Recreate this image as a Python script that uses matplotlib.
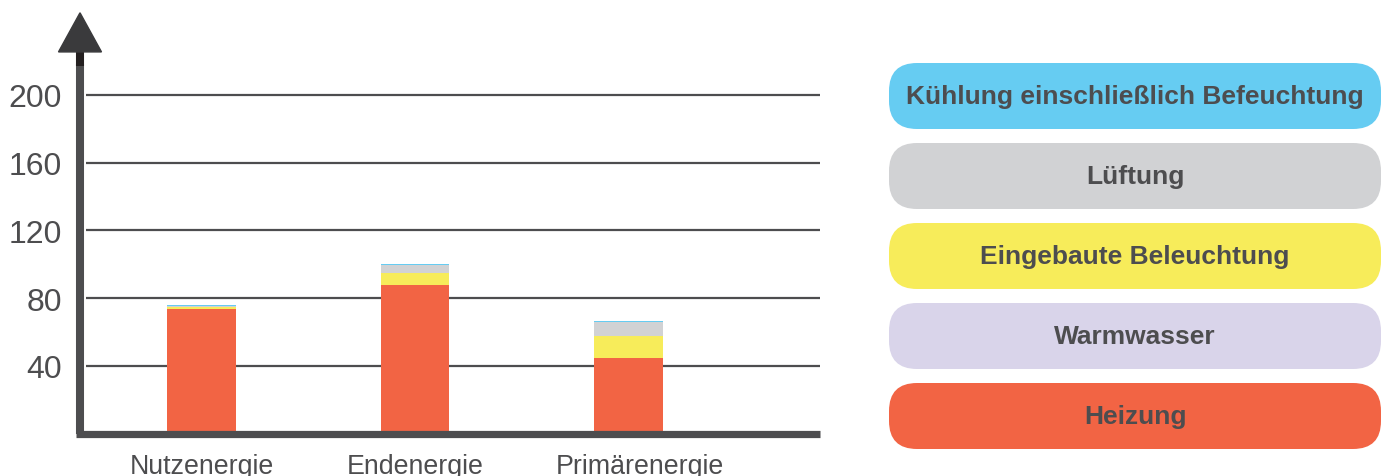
import numpy as np
import matplotlib
matplotlib.use("Agg")
import matplotlib.pyplot as plt
import matplotlib.transforms as mtransforms
from matplotlib.patches import FancyBboxPatch, Polygon

plt.rcParams['font.family'] = ['Liberation Sans', 'DejaVu Sans']

# data
categories = ['Nutzenergie', 'Endenergie', 'Primärenergie']
heizung = [73.7, 87.8, 44.7]
warmwasser = [0.0, 0.0, 0.0]
beleuchtung = [1.3, 7.1, 13.2]
lueftung = [0.6, 4.7, 8.2]
kuehlung = [0.3, 0.6, 0.5]
yticks = [40, 80, 120, 160, 200]

series = [
    ('Heizung', heizung, '#F26444'),
    ('Warmwasser', warmwasser, '#D9D4EA'),
    ('Eingebaute Beleuchtung', beleuchtung, '#F7EC5A'),
    ('Lüftung', lueftung, '#D1D2D4'),
    ('Kühlung einschließlich Befeuchtung', kuehlung, '#66CCF2'),
]

W, H = 1389, 477
fig = plt.figure(figsize=(W / 100, H / 100), dpi=100)

axis_col = '#4D4D4F'
text_col = '#4D4D4F'

# main chart axes, placed in pixel terms
x0_px, x1_px = 80, 820
zero_px = 434.75
px_per_unit = 1.694
ytop = 255
ax = fig.add_axes([x0_px / W, (H - zero_px) / H, (x1_px - x0_px) / W,
                   ytop * px_per_unit / H])
for s in ax.spines.values():
    s.set_visible(False)

spacing = 213.5
xl = -121.5 / spacing
xr = (x1_px - x0_px - 121.5) / spacing
ax.set_xlim(xl, xr)
ax.set_ylim(0, ytop)

# grid lines
ax.hlines(yticks, xl + 6 / spacing, xr, color=axis_col, lw=1.6, zorder=1)

# stacked bars
x = np.arange(len(categories))
bottom = np.zeros(len(categories))
for name, vals, col in series:
    ax.bar(x, vals, 0.32, bottom=bottom, color=col, zorder=2, linewidth=0)
    bottom += np.array(vals)

# axes lines and arrow
ax.plot([xl - 4 / spacing, xr], [0, 0], color=axis_col, lw=5.2,
        solid_capstyle='butt', zorder=3, clip_on=False)
ax.plot([xl, xl], [0, 218], color=axis_col, lw=5.8,
        solid_capstyle='butt', zorder=3, clip_on=False)
ax.plot([xl, xl], [217, 226], color='#231F20', lw=5.8,
        solid_capstyle='butt', zorder=3, clip_on=False)
half = 21.5 / spacing
ax.add_patch(Polygon([[xl - half, 225.4], [xl + half, 225.4], [xl, 248.5]],
                     closed=True, color='#3A3A3C', zorder=4, clip_on=False))

ax.set_yticks(yticks)
ax.set_yticklabels([str(v) for v in yticks], fontsize=23, color=text_col)
ax.tick_params(axis='y', length=0, pad=13)
ax.set_xticks(x)
ax.set_xticklabels(categories, fontsize=19.3, color=text_col)
ax.tick_params(axis='x', length=0, pad=14)
# last label sits a bit right of its bar in the original
lbl = ax.get_xticklabels()[-1]
lbl.set_transform(lbl.get_transform() +
                  mtransforms.ScaledTranslation(0.11, 0, fig.dpi_scale_trans))

# legend as rounded boxes
lax = fig.add_axes([0, 0, 1, 1])
lax.set_xlim(0, W)
lax.set_ylim(H, 0)
lax.axis('off')
box_x, box_w, box_h = 889, 492, 66
tops = [64, 144, 224, 304, 384]
for (name, vals, col), top in zip(series[::-1], tops):
    lax.add_patch(FancyBboxPatch((box_x, top), box_w, box_h,
                                 boxstyle='round,pad=0,rounding_size=28',
                                 fc=col, ec='none'))
    lax.text(box_x + box_w / 2, top + box_h / 2, name, ha='center',
             va='center', fontsize=19, fontweight='bold', color=text_col)

fig.savefig('out.png', dpi=100)
